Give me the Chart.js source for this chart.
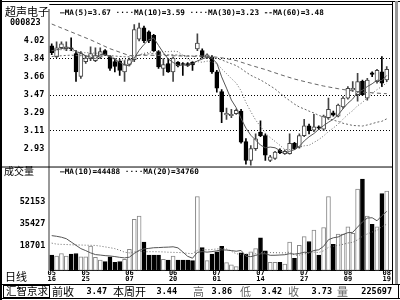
<!DOCTYPE html>
<html>
<head>
<meta charset="utf-8">
<script src="https://cdn.jsdelivr.net/npm/chart.js@4.4.0/dist/chart.umd.min.js"></script>
<style>
  html, body { margin: 0; padding: 0; background: #fff; }
  #wrap { width: 400px; height: 300px; }
</style>
</head>
<body>
<div id="wrap"><canvas id="c" width="400" height="300"></canvas></div>
<script>
// 超声电子 000823 日线
const dates = ['05/16','05/17','05/18','05/19','05/20','05/23','05/24','05/25','05/26','05/27','05/30','05/31',
  '06/01','06/02','06/03','06/06','06/07','06/08','06/09','06/10','06/13','06/14','06/15','06/16','06/17','06/20',
  '06/21','06/22','06/23','06/24','06/27','06/28','06/29','06/30',
  '07/01','07/04','07/05','07/06','07/07','07/08','07/11','07/12','07/13','07/14','07/15','07/18','07/19','07/20',
  '07/21','07/22','07/25','07/26','07/27','07/28','07/29',
  '08/01','08/02','08/03','08/04','08/05','08/08','08/09','08/10','08/11','08/12','08/15','08/16','08/17','08/18','08/19'];
const dateTicks = ['05/16','05/25','06/07','06/20','07/01','07/14','07/27','08/09','08/19'];

const opens = [3.97,3.86,3.95,3.94,3.95,3.89,3.66,3.81,3.84,3.82,
  3.855,3.92,3.86,3.81,3.815,3.705,3.78,3.83,4.037,4.152,
  4.11,4.075,3.91,3.74,3.79,3.705,3.805,3.79,3.79,3.805,
  3.937,3.92,3.854,3.854,3.705,3.507,3.27,3.262,3.282,3.308,
  3.00,2.81,2.928,3.093,3.06,2.81,2.828,2.91,2.878,2.878,
  2.983,2.944,3.06,3.159,3.116,3.149,3.126,3.242,3.292,3.258,
  3.35,3.44,3.523,3.474,3.61,3.44,3.695,3.606,3.705,3.623];
const highs = [3.99,4.01,4.01,4.01,4.05,3.92,3.91,3.87,3.96,3.95,
  3.95,3.93,3.87,3.84,3.83,3.82,3.845,4.185,4.20,4.17,
  4.12,4.085,3.92,3.84,3.84,3.855,3.81,3.80,3.80,3.81,
  4.09,3.94,3.887,3.87,3.72,3.525,3.34,3.325,3.33,3.325,
  3.03,2.96,3.077,3.21,3.077,2.86,2.90,2.927,2.917,3.077,
  2.993,3.077,3.225,3.176,3.275,3.16,3.268,3.44,3.308,3.38,
  3.455,3.556,3.606,3.69,3.623,3.64,3.705,3.73,3.86,3.76];
const lows = [3.88,3.85,3.94,3.92,3.92,3.61,3.64,3.79,3.82,3.81,
  3.84,3.87,3.72,3.705,3.67,3.61,3.765,3.81,4.02,4.00,
  4.00,3.91,3.74,3.67,3.70,3.61,3.755,3.67,3.76,3.72,
  3.92,3.845,3.84,3.69,3.50,3.19,3.225,3.242,3.275,2.984,
  2.77,2.762,2.91,3.05,2.81,2.795,2.82,2.878,2.87,2.871,
  2.917,2.934,3.05,3.077,3.10,3.12,3.109,3.225,3.258,3.25,
  3.335,3.43,3.507,3.41,3.467,3.42,3.656,3.59,3.556,3.606];
const closes = [3.90,3.95,3.99,3.96,3.94,3.705,3.89,3.845,3.89,3.87,
  3.91,3.88,3.74,3.76,3.72,3.78,3.83,4.135,4.152,4.02,
  4.02,3.92,3.755,3.78,3.705,3.845,3.765,3.78,3.77,3.775,
  3.997,3.855,3.877,3.705,3.54,3.30,3.285,3.275,3.315,2.993,
  2.81,2.928,3.027,3.06,2.861,2.845,2.894,2.884,2.90,2.983,
  2.927,3.06,3.159,3.109,3.149,3.136,3.258,3.325,3.268,3.368,
  3.44,3.54,3.54,3.606,3.474,3.623,3.68,3.72,3.59,3.73];
const volumes = [11560,10830,12790,10830,12300,12790,10330,10330,18440,9840,
  7880,6650,10330,6160,6650,8370,15990,38590,41050,21390,
  11560,11560,11560,8370,7880,10830,7880,7880,7880,7390,
  55790,17220,7390,12300,14020,18200,5920,4200,2960,13280,
  12300,14020,16480,24590,14760,6160,6160,6160,4930,21390,
  9110,18930,25570,21880,30480,11560,32450,55790,19670,27530,
  27530,32940,28030,61440,69000,41050,34900,32940,58000,59970];

const ma5 = [3.92,3.93,3.94,3.95,3.948,3.909,3.897,3.868,3.854,3.840,
  3.881,3.879,3.858,3.832,3.802,3.776,3.766,3.845,3.923,3.983,
  4.031,4.049,3.973,3.899,3.836,3.801,3.770,3.775,3.773,3.787,
  3.817,3.835,3.855,3.842,3.795,3.655,3.541,3.421,3.343,3.234,
  3.136,3.064,3.015,2.964,2.937,2.944,2.937,2.909,2.877,2.901,
  2.918,2.951,3.006,3.048,3.081,3.123,3.162,3.195,3.227,3.271,
  3.332,3.388,3.431,3.499,3.520,3.557,3.585,3.621,3.617,3.669];
const ma10 = [3.92,3.92,3.93,3.93,3.92,3.91,3.90,3.90,3.90,3.894,
  3.895,3.888,3.863,3.843,3.821,3.829,3.823,3.852,3.878,3.893,
  3.904,3.908,3.909,3.911,3.910,3.916,3.910,3.874,3.836,3.812,
  3.809,3.803,3.815,3.807,3.791,3.736,3.688,3.638,3.592,3.514,
  3.396,3.303,3.218,3.153,3.085,3.040,3.001,2.962,2.920,2.919,
  2.931,2.944,2.957,2.962,2.991,3.020,3.057,3.101,3.137,3.176,
  3.227,3.275,3.313,3.363,3.396,3.444,3.486,3.526,3.558,3.594];
const ma30 = [3.861,3.864,3.869,3.872,3.875,3.870,3.870,3.870,3.871,3.871,
  3.873,3.874,3.870,3.866,3.862,3.859,3.858,3.867,3.877,3.882,
  3.888,3.890,3.886,3.883,3.878,3.878,3.875,3.872,3.869,3.866,
  3.869,3.866,3.862,3.854,3.841,3.827,3.807,3.788,3.769,3.739,
  3.703,3.671,3.647,3.624,3.595,3.564,3.533,3.491,3.450,3.415,
  3.379,3.350,3.330,3.308,3.289,3.265,3.249,3.233,3.217,3.203,
  3.185,3.174,3.163,3.160,3.157,3.168,3.181,3.196,3.205,3.230];
const ma60 = [4.19,null,null,null,4.11,null,null,null,4.03,null,
  null,null,3.94,null,null,null,3.87,null,null,null,
  3.874,null,null,null,null,3.869,null,null,null,3.863,
  null,null,3.866,null,null,3.848,null,null,3.820,null,
  null,3.772,null,null,3.729,null,null,3.679,null,null,
  3.633,null,null,3.596,null,null,3.562,null,null,3.535,
  3.527,null,3.513,null,3.499,null,3.494,null,3.487,3.485];
const vma10 = [26300,25800,25100,24000,21500,19000,16500,15000,13300,12004,
  11636,11218,10972,10505,9940,9498,10064,12890,15151,16306,
  16674,17165,17288,17509,17632,17878,17067,13996,10679,9279,
  13702,14268,13851,14244,14858,15595,15399,15031,14539,15128,
  10779,10459,11368,12597,12671,11467,11491,11687,11884,12695,
  12376,12867,13776,13505,15077,15617,18246,23209,24683,25297,
  27139,28540,28786,32742,36594,39543,39788,37503,41336,44580];
const vma20 = [20650,19900,19700,19600,19400,19300,19200,19100,19000,18900,
  18400,17800,17200,16500,15300,13800,13300,14000,14500,14155,
  14155,14192,14130,14007,13786,13688,13566,13443,12915,12793,
  15188,15717,15570,15877,16245,16737,16233,14514,12609,12204,
  12241,12364,12610,13421,13765,13531,13445,13359,13212,13912,
  11578,11663,12572,13051,13874,13542,14869,17448,18284,18996,
  19758,20704,21281,23124,25836,27580,29017,30356,33010,34939];

const priceTicks = [4.02, 3.84, 3.66, 3.47, 3.29, 3.11, 2.93];
const priceGrid = [3.84, 3.47, 3.11];
const volTicks = [52153, 35427, 18701];

const topLegend = '—MA(5)=3.67 ····MA(10)=3.59 ····MA(30)=3.23 --MA(60)=3.48';
const volLegend = '—MA(10)=44488 ····MA(20)=34760';
const infoRow = [
  ['前收', 52, 'cjk', '#000'], ['3.47', 107, 'num'], ['本周开', 113, 'cjk', '#000'], ['3.44', 177, 'num'],
  ['高', 193, 'cjk', '#666'], ['3.86', 232, 'num'], ['低', 240, 'cjk', '#666'], ['3.42', 282, 'num'],
  ['收', 288, 'cjk', '#666'], ['3.73', 332, 'num'], ['量', 337, 'cjk', '#666'], ['225697', 392, 'num']
];

const isUp = i => closes[i] >= opens[i];
const pts = arr => arr.map((v, i) => ({x: i, y: v}));

const MONO = '"DejaVu Sans Mono", monospace';
const CJK = '"Noto Sans CJK SC", sans-serif';

const frame = {
  id: 'frame',
  afterDraw(chart) {
    const {ctx, chartArea: a} = chart;
    const sepY = chart.scales.y.bottom;
    const ln = (x1, y1, x2, y2, c, w) => {
      ctx.strokeStyle = c || '#000';
      ctx.lineWidth = w || 1;
      ctx.beginPath(); ctx.moveTo(x1, y1); ctx.lineTo(x2, y2); ctx.stroke();
    };
    ctx.save();
    // borders
    ln(0, 1.5, 400, 1.5);
    ln(1, 0, 1, 300, '#000', 2);
    ln(a.left, 4.5, a.right, 4.5);
    ln(a.right, 1, a.right, 284.5);
    ctx.fillStyle = '#999';
    ctx.fillRect(395, 1, 3, 284);
    ln(1, sepY, a.right, sepY);
    ln(1, 284.5, 400, 284.5);
    ln(1, 298.5, 400, 298.5);
    ln(398.5, 284, 398.5, 299);
    ctx.strokeRect(3.5, 285.5, 46, 12);

    // texts
    ctx.fillStyle = '#000';
    ctx.textBaseline = 'middle';
    ctx.textAlign = 'left';
    ctx.font = '11px ' + CJK;
    ctx.fillText('超声电子', 5, 12);
    ctx.font = 'bold 8.5px ' + MONO;
    ctx.fillText('000823', 10, 23);
    ctx.font = '10px ' + CJK;
    ctx.fillText('成交量', 4, 171);
    ctx.font = '11px ' + CJK;
    ctx.fillText('日线', 5, 277);
    ctx.font = 'bold 7.7px ' + MONO;
    ctx.fillText(topLegend, 60, 13);
    ctx.fillText(volLegend, 60, 172);

    ctx.font = '10.5px ' + CJK;
    ctx.fillText('汇智京求', 6, 291.5);
    infoRow.forEach(([t, x, kind, c]) => {
      if (kind === 'cjk') {
        ctx.font = '11px ' + CJK;
        ctx.textAlign = 'left';
        ctx.fillStyle = c;
      } else {
        ctx.font = 'bold 8.5px ' + MONO;
        ctx.textAlign = 'right';
        ctx.fillStyle = '#000';
      }
      ctx.fillText(t, x, 291.5);
    });
    ctx.restore();
  }
};

const lineDs = (data, axis, color, dash) => ({
  type: 'line',
  data: pts(data),
  yAxisID: axis,
  borderColor: color,
  borderWidth: 1,
  borderDash: dash,
  pointRadius: 0,
  tension: 0,
  spanGaps: true,
  order: -1
});

new Chart(document.getElementById('c'), {
  type: 'bar',
  data: {
    datasets: [
      {
        label: 'wick',
        data: lows.map((l, i) => ({x: i, y: [l, highs[i]]})),
        yAxisID: 'y',
        grouped: false,
        barThickness: 1,
        backgroundColor: ctx => isUp(ctx.dataIndex) ? '#444' : '#000',
        borderWidth: 0,
        order: 2
      },
      {
        label: 'body',
        data: opens.map((o, i) => ({x: i, y: [Math.min(o, closes[i]), Math.max(o, closes[i])]})),
        yAxisID: 'y',
        grouped: false,
        barThickness: 4,
        minBarLength: 1,
        borderSkipped: false,
        backgroundColor: ctx => isUp(ctx.dataIndex) ? '#fff' : '#000',
        borderColor: ctx => isUp(ctx.dataIndex) ? '#444' : '#000',
        borderWidth: 1,
        order: 1
      },
      {
        label: 'volume',
        data: pts(volumes),
        yAxisID: 'yv',
        grouped: false,
        barThickness: 4,
        borderSkipped: false,
        backgroundColor: ctx => isUp(ctx.dataIndex) ? '#fff' : '#000',
        borderColor: ctx => isUp(ctx.dataIndex) ? '#888' : '#000',
        borderWidth: 1,
        order: 1
      },
      lineDs(ma5, 'y', '#555', []),
      lineDs(ma10, 'y', '#666', [1, 2]),
      lineDs(ma30, 'y', '#666', [2, 2]),
      lineDs(ma60, 'y', '#666', [4, 3]),
      lineDs(vma10, 'yv', '#555', []),
      lineDs(vma20, 'yv', '#666', [1, 2])
    ]
  },
  options: {
    responsive: false,
    animation: false,
    devicePixelRatio: 1,
    layout: { padding: { left: 2.3, top: 5, right: 7.5, bottom: 16.5 } },
    plugins: { legend: { display: false }, tooltip: { enabled: false } },
    scales: {
      x: {
        type: 'linear',
        offset: false,
        min: -0.5,
        max: 70.19,
        grid: { display: false, drawTicks: false, offset: false },
        border: { display: true, color: '#000', width: 1 },
        afterBuildTicks: s => { s.ticks = dateTicks.map(d => ({ value: dates.indexOf(d) })); },
        afterFit: s => { s.height = 13; },
        ticks: {
          autoSkip: false,
          maxRotation: 0,
          padding: 0,
          color: '#000',
          font: { family: MONO, size: 7, weight: 'bold', lineHeight: 0.8 },
          callback: v => dates[v] ? dates[v].split('/') : ''
        }
      },
      y: {
        stack: 'panels',
        stackWeight: 160,
        weight: 2,
        position: 'left',
        min: 2.742,
        max: 4.331,
        afterBuildTicks: s => { s.ticks = priceTicks.map(v => ({ value: v })); },
        afterFit: s => { s.width = 47; },
        grid: {
          drawTicks: false,
          lineWidth: 1,
          color: ctx => (ctx.tick && priceGrid.includes(ctx.tick.value)) ? '#000' : 'rgba(0,0,0,0)'
        },
        border: { display: true, color: '#999', width: 2, dash: [1, 2] },
        ticks: {
          padding: 5,
          color: '#000',
          font: { family: MONO, size: 8.5, weight: 'bold' },
          callback: v => v.toFixed(2)
        }
      },
      yv: {
        stack: 'panels',
        stackWeight: 105.5,
        weight: 1,
        position: 'left',
        min: 0,
        max: 78046,
        afterBuildTicks: s => { s.ticks = volTicks.map(v => ({ value: v })); },
        afterFit: s => { s.width = 47; },
        grid: { display: false, drawTicks: false },
        border: { display: true, color: '#999', width: 2 },
        ticks: {
          padding: 4,
          color: '#000',
          font: { family: MONO, size: 8.5, weight: 'bold' },
          callback: v => String(v)
        }
      }
    }
  },
  plugins: [frame]
});
</script>
</body>
</html>
